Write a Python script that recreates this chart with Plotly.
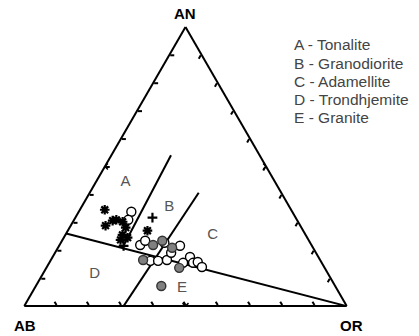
import plotly.graph_objects as go

# ---- data (AN, AB, OR in %) ----
star_an = [34.5, 28.8, 30.6, 30.9, 30.2, 28.1, 25.5, 23.7, 24.5, 27.0]
star_ab = [57.8, 60.4, 57.3, 56.0, 54.4, 54.5, 56.8, 58.3, 55.7, 48.3]
star_or = [7.7, 10.8, 12.1, 13.1, 15.4, 17.4, 17.7, 18.0, 19.8, 24.7]

cross_an = [31.7, 21.6]
cross_ab = [44.4, 58.4]
cross_or = [23.9, 20.0]

open_an = [33.8, 30.9, 21.9, 23.4, 22.7, 21.6, 16.2, 16.2, 16.5, 19.1, 17.6, 15.5, 15.5, 15.8, 14.0]
open_ab = [49.9, 52.3, 53.1, 50.8, 45.2, 40.9, 52.8, 50.4, 47.5, 44.9, 39.8, 43.0, 39.9, 38.3, 37.9]
open_or = [16.3, 16.8, 25.0, 25.8, 32.1, 37.5, 31.0, 33.4, 36.0, 36.0, 42.6, 41.5, 44.6, 45.9, 48.1]

gray_an = [16.5, 21.9, 23.4, 20.9, 13.7, 7.2]
gray_ab = [54.9, 49.1, 45.5, 43.7, 45.1, 53.9]
gray_or = [28.6, 29.0, 31.1, 35.4, 41.2, 38.9]

# field boundaries
b1_an, b1_ab, b1_or = [26, 0], [74, 0], [0, 100]
b2_an, b2_ab, b2_or = [54.0, 20.9], [27.5, 59.1], [18.5, 20.0]
b3_an, b3_ab, b3_or = [0, 40.6], [69.2, 25.6], [30.8, 33.8]

# 50 % marks on the three sides
mid_an = [50, 50, 0]
mid_ab = [50, 0, 50]
mid_or = [0, 50, 50]

# region labels
reg_txt = ["A", "B", "C", "D", "E"]
reg_an = [44.2, 35.3, 25.5, 11.5, 6.5]
reg_ab = [46.5, 37.4, 28.8, 72.4, 47.8]
reg_or = [9.3, 27.3, 45.7, 16.1, 45.7]

legend_lines = ["A - Tonalite", "B - Granodiorite", "C - Adamellite",
                "D - Trondhjemite", "E - Granite"]
vertex_labels = ["AN", "AB", "OR"]

FONT = "Liberation Sans, Arial, sans-serif"
W, H = 419, 336

fig = go.Figure()

for an, ab, orr in [(b1_an, b1_ab, b1_or), (b2_an, b2_ab, b2_or), (b3_an, b3_ab, b3_or)]:
    fig.add_trace(go.Scatterternary(a=an, b=ab, c=orr, mode="lines",
                                    line=dict(color="black", width=2),
                                    hoverinfo="skip", showlegend=False))

fig.add_trace(go.Scatterternary(a=mid_an, b=mid_ab, c=mid_or, mode="markers",
                                marker=dict(symbol="x-thin-open", size=6, color="black",
                                            line=dict(color="black", width=1.5)),
                                hoverinfo="skip", showlegend=False))

fig.add_trace(go.Scatterternary(a=reg_an, b=reg_ab, c=reg_or, mode="text", text=reg_txt,
                                textfont=dict(family=FONT, size=15, color="#555555"),
                                showlegend=False, hoverinfo="skip"))

fig.add_trace(go.Scatterternary(a=open_an, b=open_ab, c=open_or, mode="markers",
                                marker=dict(symbol="circle", size=9, color="white",
                                            line=dict(color="black", width=1.4)),
                                showlegend=False))
fig.add_trace(go.Scatterternary(a=gray_an, b=gray_ab, c=gray_or, mode="markers",
                                marker=dict(symbol="circle", size=9, color="#808080",
                                            line=dict(color="#333333", width=1.4)),
                                showlegend=False))
fig.add_trace(go.Scatterternary(a=star_an, b=star_ab, c=star_or, mode="markers",
                                marker=dict(symbol="asterisk-open", size=8, color="black",
                                            line=dict(color="black", width=2.2)),
                                showlegend=False))
fig.add_trace(go.Scatterternary(a=cross_an, b=cross_ab, c=cross_or, mode="markers",
                                marker=dict(symbol="cross-thin-open", size=7, color="black",
                                            line=dict(color="black", width=2.2)),
                                showlegend=False))

axis_style = dict(title=dict(text=""), showticklabels=False, ticks="inside", ticklen=4,
                  tickwidth=2, tickcolor="black", dtick=10, linewidth=2,
                  linecolor="black", showgrid=False, min=0)

annotations = [
    dict(x=185 / W, y=1 - 14 / H, text="<b>%s</b>" % vertex_labels[0]),
    dict(x=25 / W, y=1 - 325 / H, text="<b>%s</b>" % vertex_labels[1]),
    dict(x=351 / W, y=1 - 325 / H, text="<b>%s</b>" % vertex_labels[2]),
]
for a in annotations:
    a.update(xref="paper", yref="paper", xanchor="center", yanchor="middle",
             showarrow=False, font=dict(family=FONT, size=15, color="black"))
for i, line in enumerate(legend_lines):
    annotations.append(dict(x=292 / W, y=1 - (45 + 18.2 * i) / H, xref="paper", yref="paper",
                            xanchor="left", yanchor="middle", text=line, showarrow=False,
                            font=dict(family=FONT, size=15.5, color="#444444")))

fig.update_layout(
    width=W, height=H,
    margin=dict(l=0, r=0, t=0, b=0, autoexpand=False),
    paper_bgcolor="white",
    ternary=dict(sum=100, bgcolor="white",
                 domain=dict(x=[23 / W, 348 / W], y=[0.089, 0.92]),
                 aaxis=axis_style, baxis=axis_style, caxis=axis_style),
    annotations=annotations,
)

fig.write_html("out.html", config={"displayModeBar": False},
               post_script="document.body.style.margin='0';")
